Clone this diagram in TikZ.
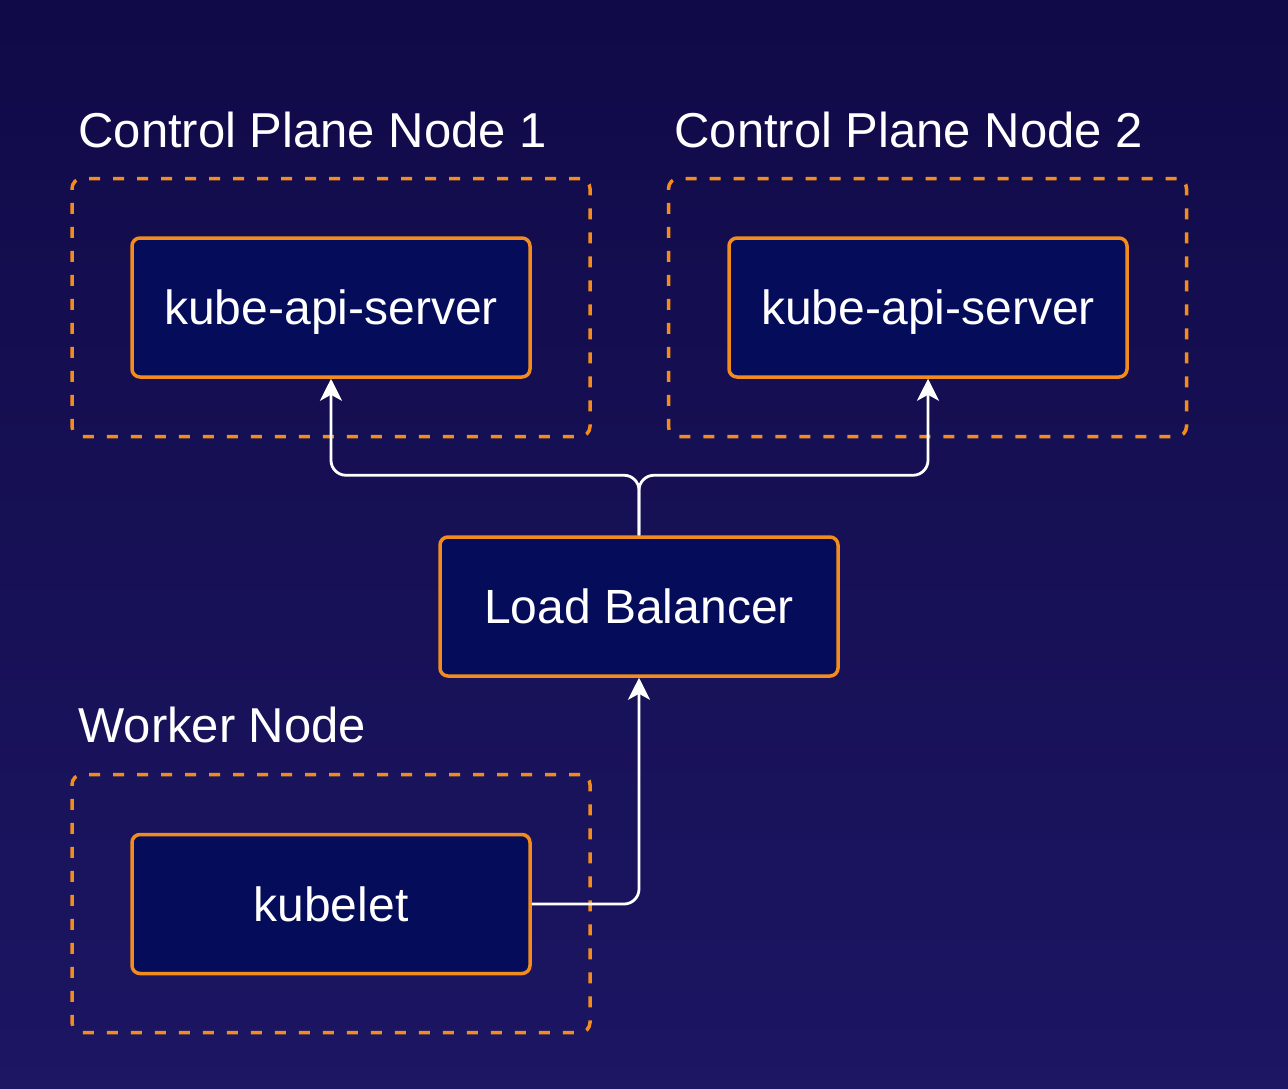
\documentclass[tikz,border=0pt]{standalone}
\usepackage{fontspec}
\setmainfont{Liberation Sans}
\usetikzlibrary{positioning, arrows.meta}
\definecolor{bgtop}{HTML}{110A48}
\definecolor{bgbottom}{HTML}{1C1663}
\definecolor{boxfill}{HTML}{050C5A}
\definecolor{k8orange}{HTML}{F28C1E}

\begin{document}
\begin{tikzpicture}[x=0.5pt, y=-0.5pt,
    group/.style={draw=k8orange, line width=1.75pt, dash pattern=on 5.5pt off 6.5pt,
                  rounded corners=5pt, minimum width=259pt, minimum height=129pt},
    comp/.style={draw=k8orange, fill=boxfill, line width=1.75pt, rounded corners=4pt,
                 minimum width=199pt, minimum height=69.5pt, text=white, text depth=0pt,
                 font=\fontsize{24}{28}\selectfont},
    title/.style={anchor=base west, text=white, inner sep=0pt,
                  font=\fontsize{24.5}{28}\selectfont},
    link/.style={draw=white, line width=1.4pt, rounded corners=7.5pt,
                 -{Stealth[length=11pt, width=11pt, inset=3pt]}}]
        % Background
        \shade[top color=bgtop, bottom color=bgbottom] (0,0) rectangle (1288,1088);
        \useasboundingbox (0,0) rectangle (1288,1088);

        % Groups
        \node[group] (cp1) at (331,307.5) {};
        \node[group] (cp2) at (927.5,307.5) {};
        \node[group] (wk) at (331,903.5) {};
        \node[title] (cp1title) at (78,147) {Control Plane Node 1};
        \node[title] (cp2title) at (674,147) {Control Plane Node 2};
        \node[title] (wktitle) at (78,742) {Worker Node};

        % Nodes
        \node[comp] (api1) at (331,307.5) {kube-api-server};
        \node[comp] (api2) at (928,307.5) {kube-api-server};
        \node[comp] (lb) at (639,606.5) {Load Balancer};
        \node[comp] (kubelet) at (331,904) {kubelet};

        % Edges
        \draw[link] (lb.north) -- ++(0,-60) -| (api1.south);
        \draw[link] (lb.north) -- ++(0,-60) -| (api2.south);
        \draw[link] (kubelet.east) -| (lb.south);
    \end{tikzpicture}
\end{document}
